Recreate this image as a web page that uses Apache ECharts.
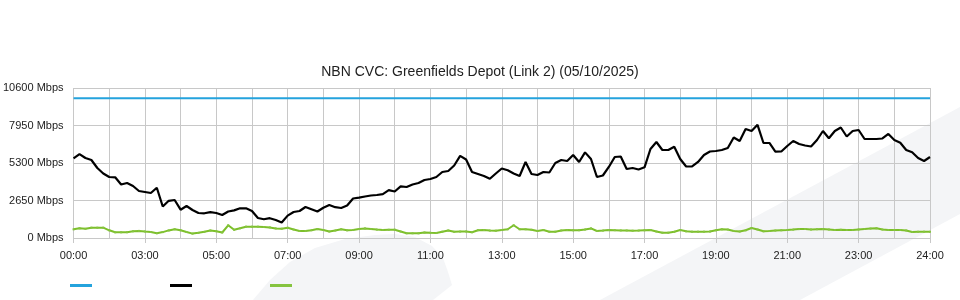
<!DOCTYPE html>
<html lang="en">
<head>
    <meta charset="UTF-8">
    <title>NBN CVC</title>
    <style>
        body {
            margin: 0;
            padding: 0;
            background: #ffffff;
        }

        #chart-container {
            width: 960px;
            height: 300px;
        }
    </style>
    <script src="https://cdn.jsdelivr.net/npm/echarts@6.0.0/dist/echarts.min.js"></script>
</head>
<body>
    <div id="chart-container"></div>

    <script>
        // x labels as printed under the axis (one per 2 hour step)
        const xLabels = ['00:00', '03:00', '05:00', '07:00', '09:00', '11:00', '13:00',
            '15:00', '17:00', '19:00', '21:00', '23:00', '24:00'];
        const yTicks = [0, 2650, 5300, 7950, 10600];

        // one sample every 10 minutes, 00:00 .. 24:00 (Mbps)
        const capacity = 9880;
        const download = [
            5632, 5930, 5654, 5512, 4947, 4558, 4311, 4290, 3781, 3887,
            3675, 3321, 3251, 3180, 3550, 2226, 2629, 2685, 2000, 2261,
            1979, 1767, 1746, 1823, 1767, 1625, 1873, 1950, 2099, 2099,
            1908, 1413, 1322, 1399, 1272, 1100, 1583, 1837, 1908, 2191,
            2035, 1873, 2141, 2332, 2177, 2120, 2297, 2791, 2848, 2933,
            3003, 3039, 3102, 3378, 3286, 3650, 3604, 3781, 3887, 4099,
            4170, 4311, 4664, 4735, 5124, 5800, 5550, 4664, 4523, 4382,
            4184, 4558, 4912, 4784, 4558, 4382, 5371, 4523, 4452, 4664,
            4629, 5300, 5512, 5442, 5866, 5371, 6050, 5583, 4311, 4417,
            5018, 5724, 5760, 4876, 4947, 4841, 4996, 6290, 6784, 6219,
            6219, 6450, 5583, 5053, 5053, 5371, 5866, 6113, 6148, 6219,
            6360, 7102, 6855, 7703, 7562, 8000, 6714, 6714, 6099, 6113,
            6502, 6855, 6643, 6537, 6466, 6926, 7562, 7046, 7562, 7809,
            7173, 7562, 7632, 6996, 6996, 6996, 7032, 7350, 6926, 6735,
            6219, 6056, 5654, 5442, 5724
        ];
        const upload = [
            615, 686, 650, 728, 728, 728, 544, 403, 403, 410,
            473, 502, 459, 424, 339, 417, 537, 622, 544, 424,
            311, 367, 438, 530, 481, 389, 900, 580, 686, 799,
            799, 799, 777, 749, 678, 657, 721, 601, 495, 495,
            551, 629, 565, 459, 530, 615, 544, 565, 636, 678,
            636, 594, 565, 580, 587, 459, 332, 332, 332, 389,
            367, 353, 445, 530, 438, 452, 459, 410, 551, 565,
            523, 516, 565, 615, 900, 615, 615, 580, 495, 565,
            445, 445, 530, 565, 544, 551, 601, 678, 495, 523,
            565, 551, 537, 530, 516, 523, 544, 565, 459, 375,
            375, 438, 565, 473, 445, 445, 445, 459, 544, 615,
            594, 495, 459, 544, 707, 601, 473, 495, 523, 544,
            565, 594, 629, 636, 601, 622, 636, 601, 565, 580,
            565, 565, 601, 636, 664, 686, 601, 565, 565, 565,
            530, 424, 438, 445, 445
        ];

        function toSeries(values) {
            return values.map((v, i) => [i / 6, v]);
        }

        var chart = echarts.init(document.getElementById('chart-container'), null, { renderer: 'canvas' });

        var labelFont = {
            color: '#222',
            fontSize: 11,
            fontFamily: 'Liberation Sans, Arial, sans-serif'
        };

        var option = {
            animation: false,
            backgroundColor: '#ffffff',
            title: {
                text: 'NBN CVC: Greenfields Depot (Link 2) (05/10/2025)',
                left: 'center',
                top: 60,
                textStyle: {
                    color: '#222',
                    fontSize: 14,
                    fontWeight: 'normal',
                    fontFamily: 'Liberation Sans, Arial, sans-serif'
                }
            },
            // light background watermark shapes
            graphic: [
                {
                    type: 'polygon',
                    z: -10,
                    silent: true,
                    shape: { points: [[600, 300], [960, 107], [960, 214], [800, 300]] },
                    style: { fill: '#f4f5f7' }
                },
                {
                    type: 'polygon',
                    z: -10,
                    silent: true,
                    shape: {
                        points: [[253, 300], [270, 280], [290, 262], [315, 248], [345, 239],
                            [375, 235], [395, 234], [415, 237], [432, 246], [443, 258],
                            [448, 272], [452, 285], [433, 300]]
                    },
                    style: { fill: '#f4f5f7' }
                }
            ],
            legend: {
                left: 65,
                top: 279,
                itemWidth: 22,
                itemHeight: 3,
                itemGap: 78,
                icon: 'rect',
                formatter: () => '',
                selectedMode: false,
                data: ['Capacity', 'Download', 'Upload']
            },
            grid: {
                left: 70,
                right: 30,
                top: 88,
                bottom: 62
            },
            xAxis: {
                type: 'value',
                min: 0,
                max: 24,
                interval: 2,
                axisLine: { show: true, lineStyle: { color: '#c8c8c8' } },
                axisTick: { show: true, length: 5, lineStyle: { color: '#c8c8c8' } },
                axisLabel: Object.assign({
                    margin: 12,
                    formatter: v => xLabels[Math.round(v / 2)]
                }, labelFont),
                splitLine: { show: true, lineStyle: { color: '#c8c8c8' } },
                minorTick: { show: true, splitNumber: 2, length: 0, lineStyle: { width: 0 } },
                minorSplitLine: { show: true, lineStyle: { color: '#c8c8c8' } }
            },
            yAxis: {
                type: 'value',
                min: yTicks[0],
                max: yTicks[yTicks.length - 1],
                interval: yTicks[1] - yTicks[0],
                axisLine: { show: false },
                axisTick: { show: false },
                axisLabel: Object.assign({
                    margin: 10,
                    formatter: v => v + ' Mbps'
                }, labelFont),
                splitLine: { show: true, lineStyle: { color: '#c8c8c8' } }
            },
            series: [
                {
                    name: 'Capacity',
                    type: 'line',
                    data: toSeries(download.map(() => capacity)),
                    showSymbol: false,
                    itemStyle: { color: '#24a3dd' },
                    lineStyle: { color: '#24a3dd', width: 2 },
                    z: 3
                },
                {
                    name: 'Download',
                    type: 'line',
                    data: toSeries(download),
                    showSymbol: false,
                    itemStyle: { color: '#000000' },
                    lineStyle: { color: '#000000', width: 2.2 },
                    z: 4
                },
                {
                    name: 'Upload',
                    type: 'line',
                    data: toSeries(upload),
                    symbol: 'rect',
                    symbolSize: 2,
                    showSymbol: true,
                    itemStyle: { color: '#86c440' },
                    lineStyle: { color: '#7cbf2a', width: 2 },
                    z: 3
                }
            ]
        };

        chart.setOption(option);
    </script>
</body>
</html>
